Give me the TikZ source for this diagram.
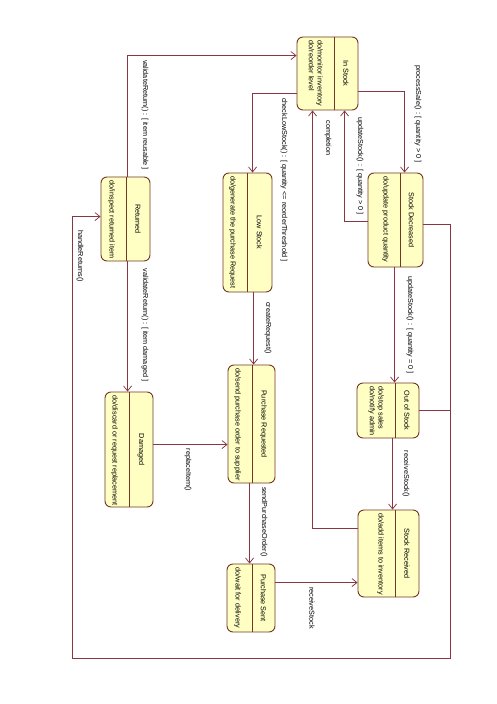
\documentclass[tikz,border=0pt]{standalone}
\usepackage{fontspec}
\setmainfont{Liberation Sans}
\usetikzlibrary{arrows.meta,calc}
\definecolor{linec}{RGB}{135,55,65}
\definecolor{boxfill}{RGB}{255,255,196}
\definecolor{boxdraw}{RGB}{115,55,35}
\tikzset{
  statebox/.style={draw=boxdraw, fill=boxfill, rounded corners=6pt, line width=0.9pt, inner sep=0pt},
  lbl/.style={rotate=-90, font=\fontsize{7.25}{8.8}\selectfont, inner sep=0pt, text=black},
  trans/.style={draw=linec, line width=0.75pt, -{Straight Barb[length=5pt,width=8pt]}},
  plain/.style={draw=linec, line width=0.75pt},
}
\newcommand\UMLstate[8]{%
  \node[statebox, minimum width={(#4-#2)*1pt}, minimum height={(#5-#3)*1pt}] (#1) at ({(#2+#4)/2},{(#3+#5)/2}) {};
  \draw[boxdraw, line width=0.8pt] (#6,#3) -- (#6,#5);
  \node[lbl] (#1-name) at ({(#6+#4)/2},{(#3+#5)/2}) {#7};
  \node[lbl, anchor=north west, align=left] (#1-body) at ({#6-11},{#3+3.5}) {#8};
}
\begin{document}
\begin{tikzpicture}[x=1pt,y=-1pt]
\fill[white] (0,0) rectangle (496,704);
\useasboundingbox (0,0) rectangle (496,704);

\UMLstate{instock}{297}{37}{358}{110}{334}{In Stock}{do/monitor inventory\\do/reorder level}
\UMLstate{returned}{101}{177}{150}{261}{126}{Returned}{do/inspect returned item}
\UMLstate{lowstock}{223}{173}{272}{292}{247}{Low Stock}{do/generate the purchase Request}
\UMLstate{stockdec}{368}{173}{423}{267}{400}{Stock Decreased}{do/update product quantity}
\UMLstate{outofstock}{357}{383}{419}{438}{395}{Out of Stock}{do/stop sales\\do/notify admin}
\UMLstate{purchreq}{228}{365}{275}{483}{252}{Purchase Requested}{do/send purchase order to supplier}
\UMLstate{damaged}{105}{392}{153}{507}{129}{Damaged}{do/discard or request replacement}
\UMLstate{purchsent}{227}{564}{275}{632}{252}{Purchase Sent}{do/wait for delivery}
\UMLstate{stockrec}{358}{510}{419}{597}{395}{Stock Received}{do/add items to inventory}

% connectors
\draw[trans] ($(returned.north west)+(27,0)$) |- ($(instock.north west)+(0,19)$);
\coordinate (hrR) at (450,658);
\coordinate (hrL) at (72,658);
\draw[trans] ($(stockdec.north east)+(0,52)$) -| (hrR) -- (hrL) |- ($(returned.north west)+(0,40)$);
\draw[plain] ($(outofstock.north east)+(0,28)$) coordinate (oj) -- (oj -| hrR);
\draw[trans] ($(instock.north east)+(0,55)$) -| ($(stockdec.north west)+(37,0)$);
\draw[trans] ($(stockdec.north west)+(0,49)$) -| ($(instock.south west)+(48,0)$);
\draw[trans] ($(instock.north west)+(0,57)$) -| ($(lowstock.north west)+(30,0)$);
\draw[trans] ($(stockrec.north west)+(0,19)$) -| ($(instock.south west)+(16,0)$);
\draw[trans] ($(lowstock.south west)+(31,0)$) -- ($(purchreq.north west)+(26,0)$);
\draw[trans] ($(returned.south west)+(27,0)$) -- ($(damaged.north west)+(23,0)$);
\draw[trans] ($(damaged.north east)+(0,53)$) -- ($(purchreq.north west)+(0,80)$);
\draw[trans] ($(stockdec.south west)+(27,0)$) -- ($(outofstock.north west)+(38,0)$);
\draw[trans] ($(outofstock.south west)+(36,0)$) -- ($(stockrec.north west)+(35,0)$);
\draw[trans] ($(purchreq.south west)+(22,0)$) -- ($(purchsent.north west)+(23,0)$);
\draw[trans] ($(purchsent.north east)+(0,19)$) -- ($(stockrec.north west)+(0,73)$);

% labels
\node[lbl] (l1) at (145,115) {validateReturn() : [ item reusable ]};
\node[lbl] (l2) at (80,256) {handleReturns()};
\node[lbl] (l3) at (418,114) {processSale() : [ quantity > 0 ]};
\node[lbl] (l4) at (360,166) {updateStock() : [ quantity > 0 ]};
\node[lbl] (l5) at (284,180) {checkLowStock() : [ quantity <= reorderThreshold ]};
\node[lbl] (l6) at (328,138) {completion};
\node[lbl] (l7) at (268,328) {createRequest()};
\node[lbl] (l8) at (145,325) {validateReturn() : [ item damaged ]};
\node[lbl] (l9) at (188,470) {replaceItem()};
\node[lbl] (l10) at (410,325) {updateStock() : [ quantity = 0 ]};
\node[lbl] (l11) at (406,474) {receiveStock()};
\node[lbl] (l12) at (264,522) {sendPurchaseOrder()};
\node[lbl] (l13) at (312,608) {receiveStock};
\end{tikzpicture}
\end{document}
